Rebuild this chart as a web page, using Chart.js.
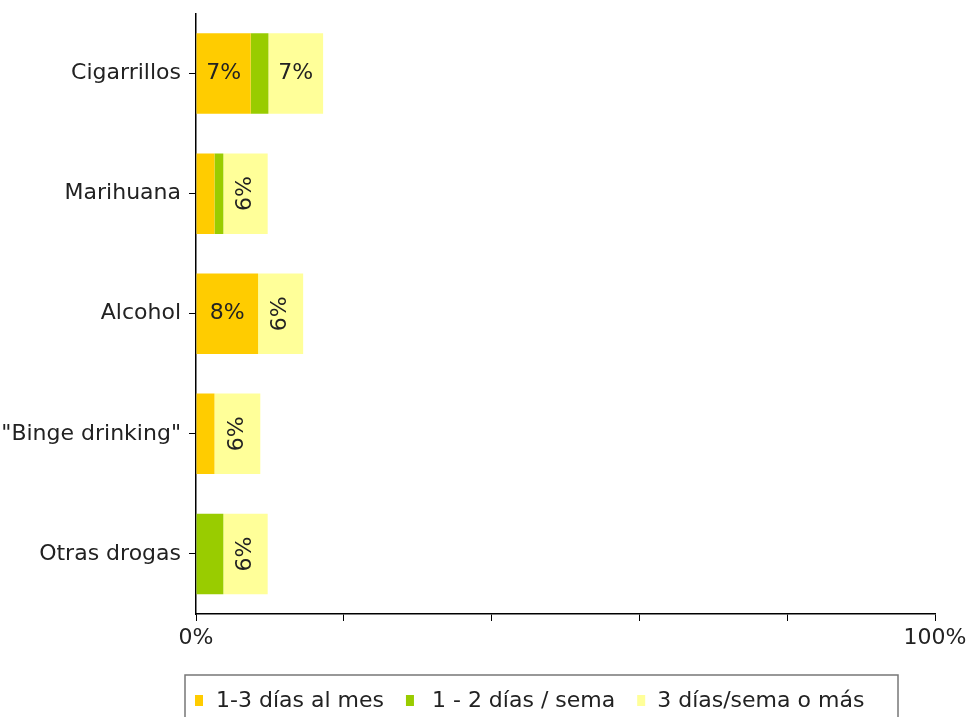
<!DOCTYPE html>
<html>
<head>
<meta charset="utf-8">
<script src="https://cdn.jsdelivr.net/npm/chart.js@4"></script>
<style>
  body { margin: 0; background: #fff; }
  #wrap { width: 971px; height: 717px; }
</style>
</head>
<body>
<div id="wrap"><canvas id="chart"></canvas></div>
<script>
const categories = ['Cigarrillos', 'Marihuana', 'Alcohol', '"Binge drinking"', 'Otras drogas'];
const seriesNames = ['1-3 días al mes', '1 - 2 días / sema', '3 días/sema o más'];
const mes = [7.4, 2.5, 8.4, 2.5, 0];
const semana = [2.4, 1.2, 0, 0, 3.7];
const masDias = [7.4, 6.0, 6.1, 6.2, 6.0];
const xTickLabels = {0: '0%', 100: '100%'};

const colors = ['#FFCC00', '#99CC00', '#FFFF99'];
const FONT = '"DejaVu Sans", Verdana, sans-serif';
const FSIZE = 22;

// etiquetas de valor dentro de las barras
const barLabels = {
    id: 'barLabels',
    afterDatasetsDraw(chart) {
        const ctx = chart.ctx;
        ctx.save();
        ctx.font = FSIZE + 'px ' + FONT;
        ctx.fillStyle = '#222';
        ctx.textAlign = 'center';
        ctx.textBaseline = 'middle';
        chart.data.datasets.forEach((ds, i) => {
            chart.getDatasetMeta(i).data.forEach((bar, j) => {
                const v = ds.data[j];
                if (v < 5) return;
                const txt = Math.round(v) + '%';
                const w = Math.abs(bar.x - bar.base);
                const cx = (bar.x + bar.base) / 2;
                const tw = ctx.measureText(txt).width;
                if (tw + 12 <= w) {
                    ctx.fillText(txt, cx, bar.y);
                } else {
                    ctx.save();
                    ctx.translate(cx, bar.y);
                    ctx.rotate(-Math.PI / 2);
                    ctx.fillText(txt, 0, 0);
                    ctx.restore();
                }
            });
        });
        ctx.restore();
    }
};

// leyenda con borde debajo del eje
const boxLegend = {
    id: 'boxLegend',
    afterDraw(chart) {
        const ctx = chart.ctx;
        const area = chart.chartArea;
        const left = area.left - 11;
        const top = area.bottom + 61;
        ctx.save();
        ctx.strokeStyle = '#777';
        ctx.lineWidth = 1.5;
        ctx.strokeRect(left, top, 713, 60);
        ctx.font = FSIZE + 'px ' + FONT;
        ctx.textBaseline = 'middle';
        ctx.textAlign = 'left';
        let x = left + 10;
        const y = top + 26;
        const gaps = [21, 26, 20];
        chart.data.datasets.forEach((ds, i) => {
            ctx.fillStyle = ds.backgroundColor;
            ctx.fillRect(x, y - 6, 8, 11);
            ctx.fillStyle = '#222';
            ctx.fillText(ds.label, x + gaps[i], y);
            x += gaps[i] + ctx.measureText(ds.label).width + 22;
        });
        ctx.restore();
    }
};

new Chart(document.getElementById('chart'), {
    type: 'bar',
    data: {
        labels: categories,
        datasets: [
            { label: seriesNames[0], data: mes, backgroundColor: colors[0] },
            { label: seriesNames[1], data: semana, backgroundColor: colors[1] },
            { label: seriesNames[2], data: masDias, backgroundColor: colors[2] }
        ]
    },
    options: {
        indexAxis: 'y',
        responsive: true,
        maintainAspectRatio: false,
        animation: false,
        categoryPercentage: 1,
        barPercentage: 0.67,
        layout: { padding: { top: 12, right: 36, left: 0, bottom: 0 } },
        plugins: {
            legend: { display: false },
            tooltip: { enabled: false }
        },
        scales: {
            x: {
                stacked: true,
                min: 0,
                max: 100,
                afterFit: s => { s.height = 103; },
                ticks: {
                    stepSize: 20,
                    autoSkip: false,
                    maxRotation: 0,
                    padding: 4,
                    color: '#222',
                    font: { family: FONT, size: FSIZE },
                    callback: v => xTickLabels[v] || ''
                },
                grid: { drawOnChartArea: false, tickLength: 7, color: '#000' },
                border: { color: '#000', width: 1.5 }
            },
            y: {
                stacked: true,
                afterFit: s => { s.width = 196; },
                ticks: {
                    padding: 8,
                    color: '#222',
                    font: { family: FONT, size: FSIZE, lineHeight: 0.5 }
                },
                grid: { drawOnChartArea: false, offset: false, tickLength: 7, color: '#000' },
                border: { color: '#000', width: 1.5 }
            }
        }
    },
    plugins: [barLabels, boxLegend]
});
</script>
</body>
</html>
